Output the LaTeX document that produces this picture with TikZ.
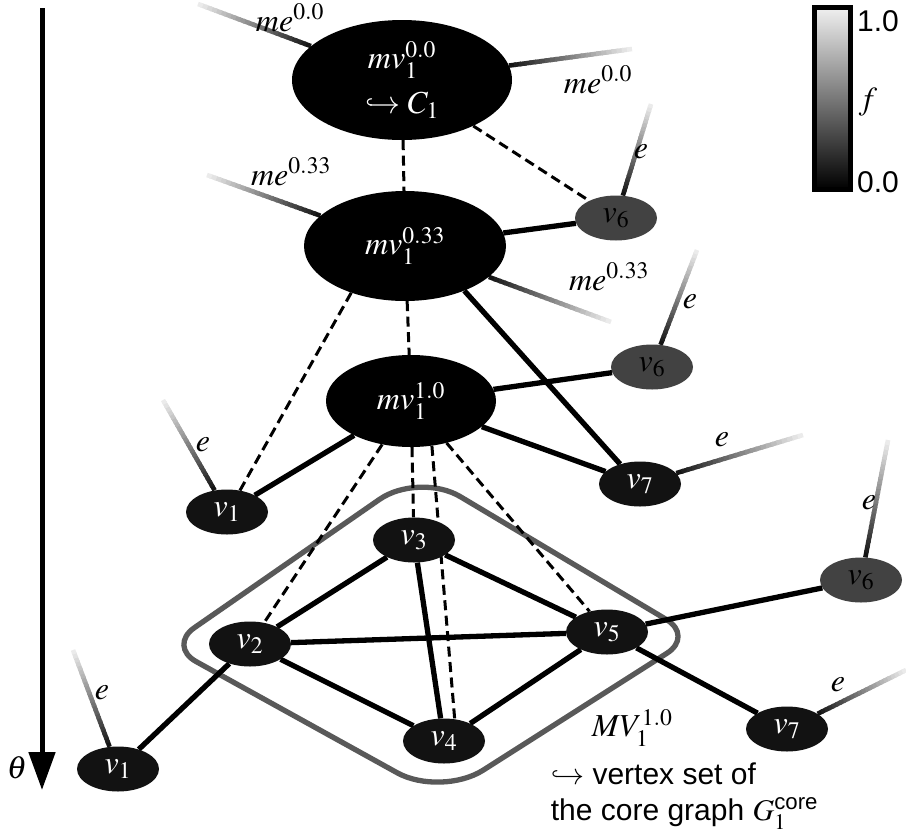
\documentclass[tikz,border=0pt]{standalone}
\usepackage{amsmath}
\usepackage{mathptmx}
\usepackage[no-math]{fontspec}
\setsansfont{Liberation Sans}
\usetikzlibrary{shapes.geometric,arrows.meta,calc,backgrounds}

\tikzset{
  metav/.style={ellipse,fill=black,text=white,inner sep=0pt},
  vert/.style={ellipse,fill=black!93,text=white,inner sep=0pt,
               minimum width=82pt,minimum height=45pt},
  grayvert/.style={vert,fill=black!74,text=black},
  coreedge/.style={line width=5.3pt},
  metaedge/.style={line width=3pt,dash pattern=on 10pt off 5.5pt},
  fadeline/.style={line width=4.6pt},
  lasso/.style={line width=5.3pt,draw=black!65},
}

% edge that fades from a node to a free end
\newcommand\fadeedge[2]{%
  \path (#1) -- coordinate[pos=0] (fe-s) (#2);
  \foreach \i in {0,...,23}{%
    \pgfmathsetmacro\ta{\i/24}%
    \pgfmathsetmacro\tb{min(1,(\i+1.4)/24)}%
    \pgfmathtruncatemacro\sh{92-\i*84/23}%
    \draw[fadeline,black!\sh] ($(fe-s)!\ta!(#2)$) -- ($(fe-s)!\tb!(#2)$);
  }}

\begin{document}
\begin{tikzpicture}[x=1pt,y=-1pt]
\fontsize{32}{38}\selectfont
\useasboundingbox (0,0) rectangle (906,839);

  % theta axis
  \coordinate (ttop) at (42,8);
  \coordinate (tbot) at (42,790);
  \draw[line width=5pt,-{Triangle[width=26pt,length=38pt]}] (ttop) -- (tbot);
  \node (theta) at (17,768) {$\theta$};

  % colour bar
  \node[draw,line width=5pt,minimum width=36pt,minimum height=182pt,inner sep=0pt,
        top color=black!6,middle color=black!72,bottom color=black] (cbar) at (832.5,98.5) {};
  \node[font=\sffamily\fontsize{30}{36}\selectfont] (cmax) at (878,21) {1.0};
  \node (cf) at (868,102) {$f$};
  \node[font=\sffamily\fontsize{30}{36}\selectfont] (cmin) at (878,182) {0.0};

  % meta vertices
  \node[metav,minimum width=220pt,minimum height=120pt,align=center] (mv0) at (402,80)
       {$mv_1^{0.0}$\\[7pt]$\hookrightarrow C_1$};
  \node[metav,minimum width=202pt,minimum height=110pt] (mv33) at (405,246) {$mv_1^{0.33}$};
  \node[metav,minimum width=170pt,minimum height=92pt] (mv1) at (411,401) {$mv_1^{1.0}$};

  % vertices
  \node[grayvert] (v6a) at (616,218) {$v_6$};
  \node[grayvert] (v6b) at (652,367) {$v_6$};
  \node[vert] (v7b) at (640,484) {$v_7$};
  \node[vert] (v1b) at (227,512) {$v_1$};
  \node[vert] (v3) at (414,540) {$v_3$};
  \node[vert] (v2) at (250,644) {$v_2$};
  \node[vert] (v5) at (607,632) {$v_5$};
  \node[vert] (v4) at (444,741) {$v_4$};
  \node[grayvert] (v6c) at (861,580) {$v_6$};
  \node[vert] (v7c) at (787,729) {$v_7$};
  \node[vert] (v1c) at (118,769) {$v_1$};

  % free ends of the fading edges
  \coordinate (mv0l) at (198,4);
  \coordinate (mv0r) at (632,49);
  \coordinate (mv33l) at (207,175);
  \coordinate (mv33r) at (611,322);
  \coordinate (v6ae) at (651,104);
  \coordinate (v6be) at (697,250);
  \coordinate (v7be) at (803,435);
  \coordinate (v1be) at (163,400);
  \coordinate (v1ce) at (73,650);
  \coordinate (v6ce) at (888,440);
  \coordinate (v7ce) at (906,670);

  % labels
  \node (lmv0l) at (290,18) {$me^{0.0}$};
  \node (lmv0r) at (598,80) {$me^{0.0}$};
  \node (lmv33l) at (291,172) {$me^{0.33}$};
  \node (lmv33r) at (609,277) {$me^{0.33}$};
  \node (lv6a) at (641,152) {$e$};
  \node (lv6b) at (690,302) {$e$};
  \node (lv7b) at (722,440) {$e$};
  \node (lv1b) at (203,445) {$e$};
  \node (lv1c) at (102,693) {$e$};
  \node (lv6c) at (869,503) {$e$};
  \node (lv7c) at (838,685) {$e$};

  \node[anchor=west] (lMV) at (581,728) {$MV_1^{1.0}$};
  \node[anchor=west,align=left,font=\sffamily\fontsize{30}{36}\selectfont] (lcore) at (540,796)
       {$\hookrightarrow$ vertex set of\\the core graph $G_1^{\text{core}}$};

  \begin{scope}[on background layer]
  % core graph outline
  \coordinate (lw) at (168,646);
  \coordinate (ln) at (419,472);
  \coordinate (le) at (694,636);
  \coordinate (ls) at (441,797);
  \draw[lasso,rounded corners=48pt] ($(lw)!.5!(ln)$) -- (ln) [rounded corners=32pt] -- (le)
       [rounded corners=50pt] -- (ls) [rounded corners=32pt] -- (lw) -- cycle;

  % meta edges
  \draw[metaedge] (mv0) -- (mv33);
  \draw[metaedge] (mv0) -- (v6a);
  \draw[metaedge] (mv33) -- (mv1);
  \draw[metaedge] (mv33.221) -- (v1b.59);
  \draw[metaedge] (mv1) -- (v2);
  \draw[metaedge] (mv1) -- (v3);
  \draw[metaedge] (mv1.-65) -- (v4.64);
  \draw[metaedge] (mv1) -- (v5);

  % edges
  \draw[coreedge] (mv33) -- (v6a);
  \draw[coreedge] (mv33.-37) -- (v7b.135);
  \draw[coreedge] (mv1) -- (v6b);
  \draw[coreedge] (mv1) -- (v7b);
  \draw[coreedge] (mv1) -- (v1b);
  \draw[coreedge] (v2) -- (v3);
  \draw[coreedge] (v3) -- (v5);
  \draw[coreedge] (v2) -- (v5);
  \draw[coreedge] (v2) -- (v4);
  \draw[coreedge] (v4) -- (v5);
  \draw[coreedge] (v3) -- (v4);
  \draw[coreedge] (v2) -- (v1c);
  \draw[coreedge] (v5) -- (v6c);
  \draw[coreedge] (v5) -- (v7c);

  % fading edges
  \fadeedge{mv0}{mv0l}
  \fadeedge{mv0}{mv0r}
  \fadeedge{mv33}{mv33l}
  \fadeedge{mv33}{mv33r}
  \fadeedge{v6a}{v6ae}
  \fadeedge{v6b}{v6be}
  \fadeedge{v7b}{v7be}
  \fadeedge{v1b}{v1be}
  \fadeedge{v1c}{v1ce}
  \fadeedge{v6c}{v6ce}
  \fadeedge{v7c}{v7ce}
  \end{scope}

\end{tikzpicture}
\end{document}
